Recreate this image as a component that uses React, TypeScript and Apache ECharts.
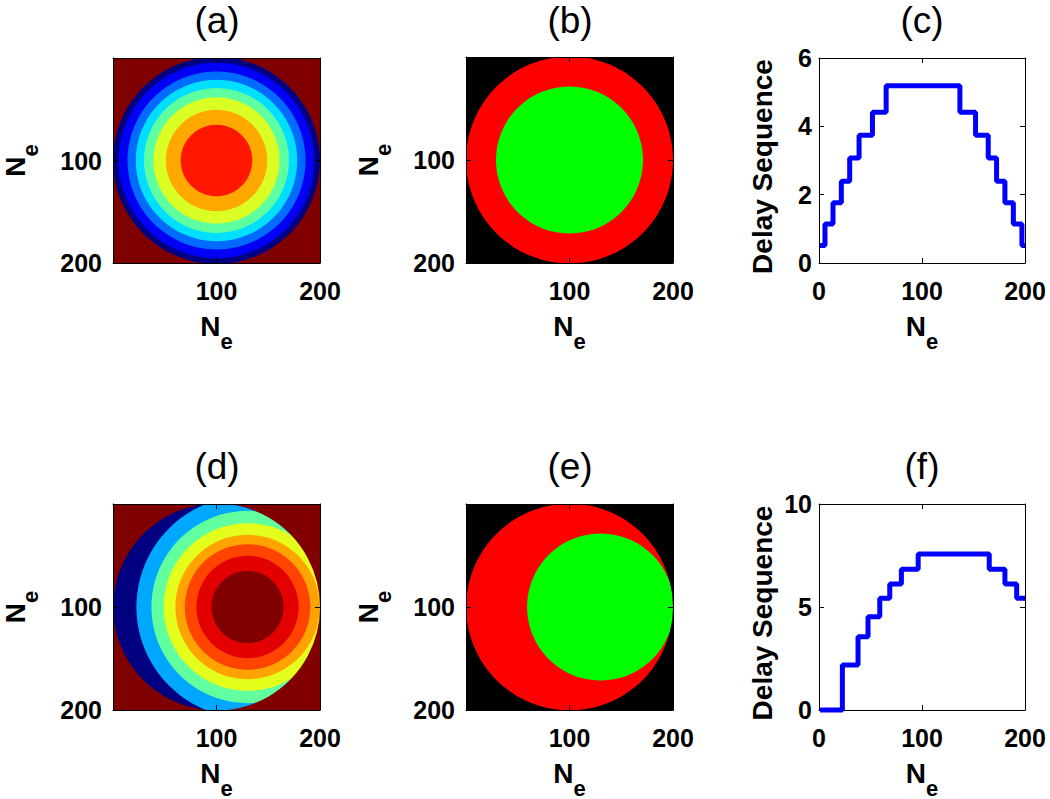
import React, { useEffect, useRef } from "react";
import * as echarts from "echarts";

// ---------------- data ----------------
const panelTitles = ["(a)", "(b)", "(c)", "(d)", "(e)", "(f)"];

// aperture (all image panels)
const apertureCenter = [100, 100];
const apertureRadius = 100;

// (a) delay rings around the unsteered focus (aperture centre)
const ringsA_radius = [100, 94.5, 86, 78, 70, 61, 49, 34.6];
const ringsA_delay = [0.51, 1.14, 1.76, 2.39, 3.07, 3.74, 4.41, 5.19];
const climA = [0.5, 6];

// (d) delay rings around the steered focus
const focusD = [130, 100];
const outsideDelayD = 0;
const ringsD_radius = [107.4, 92.9, 81, 69.7, 60.7, 49.4, 34.9];
const ringsD_delay = [2.18, 3.56, 4.53, 5.42, 6.12, 6.83, 7.57];
const climD = [0, 7.57];

// (b), (e) active sub-aperture
const activeRadius = 71;
const activeCenterB = [100, 100];
const activeCenterE = [130, 100];

// (c) delay sequence (step line): x where each level starts, level
const seqC_x = [1, 5.8, 13.6, 21.7, 29.8, 38.9, 51.9, 65.2, 136.8, 152, 164.3, 172.4, 180.5, 188.7, 197, 200];
const seqC_y = [0.51, 1.14, 1.76, 2.39, 3.07, 3.74, 4.41, 5.19, 4.41, 3.74, 3.07, 2.39, 1.76, 1.14, 0.51, 0.51];

// (f) delay sequence
const seqF_x = [1, 22.7, 37.9, 47.6, 59, 68.7, 80, 96.3, 165.3, 180.5, 191.9, 200];
const seqF_y = [0, 2.18, 3.56, 4.53, 5.42, 6.12, 6.83, 7.57, 6.83, 6.12, 5.42, 5.42];

// axis ticks
const imgAxisMax = 200;
const imgTickStep = 100;
const cAxisYMax = 6;
const cAxisYStep = 2;
const fAxisYMax = 10;
const fAxisYStep = 5;
const seqAxisXMax = 200;
const seqAxisXStep = 100;

// ---------------- styling ----------------
const FONT = "'Liberation Sans', Arial, sans-serif";
const JET = ["#000080", "#0000ff", "#0080ff", "#00ffff", "#80ff80", "#ffff00", "#ff8000", "#ff0000", "#800000"];
const MASK_WIDTH = 70; // data units, thickness of the outside-aperture mask ring

const GRIDS = [
  { left: 113, top: 58, width: 207, height: 205 },
  { left: 466, top: 57, width: 207, height: 206 },
  { left: 819, top: 58, width: 206, height: 205 },
  { left: 113, top: 504, width: 207, height: 206 },
  { left: 466, top: 504, width: 207, height: 206 },
  { left: 819, top: 504, width: 206, height: 206 },
];

const neRich = {
  n: { fontFamily: FONT, fontSize: 28, fontWeight: "bold", color: "#000", lineHeight: 28, verticalAlign: "top" },
  s: { fontFamily: FONT, fontSize: 22, fontWeight: "bold", color: "#000", lineHeight: 40, verticalAlign: "bottom" },
};
const NE = "{n|N}{s|e}";

function renderDisk(params: any, api: any) {
  const cx = api.value(0);
  const cy = api.value(1);
  const r = api.value(2);
  const kind = api.value(4);
  const color = api.visual("color");
  if (kind === 2) {
    const a = api.coord([cx - r, cy - r]);
    const b = api.coord([cx + r, cy + r]);
    return {
      type: "rect",
      shape: { x: Math.min(a[0], b[0]), y: Math.min(a[1], b[1]), width: Math.abs(b[0] - a[0]), height: Math.abs(b[1] - a[1]) },
      style: { fill: color },
    };
  }
  const c = api.coord([cx, cy]);
  const pr = api.size([r, r])[0];
  if (kind === 1) {
    const w = api.size([MASK_WIDTH, MASK_WIDTH])[0];
    return {
      type: "circle",
      shape: { cx: c[0], cy: c[1], r: pr + w / 2 },
      style: { fill: "none", stroke: color, lineWidth: w },
    };
  }
  return { type: "circle", shape: { cx: c[0], cy: c[1], r: pr }, style: { fill: color } };
}

const tickStyle = { show: true, inside: true, length: 5, lineStyle: { color: "#000", width: 1 } };
const axisLineStyle = { show: true, onZero: false, lineStyle: { color: "#000", width: 1 } };
const labelStyle = (margin: number, extra: any = {}) => ({
  fontFamily: FONT,
  fontSize: 25,
  fontWeight: "bold",
  color: "#000",
  margin,
  ...extra,
});

function xAxes(g: number, isImg: boolean, max: number, step: number) {
  const base = {
    type: "value",
    gridIndex: g,
    min: 0,
    max,
    interval: step,
    splitLine: { show: false },
    axisLine: axisLineStyle,
    axisTick: tickStyle,
    z: isImg ? 10 : 0,
  };
  return [
    {
      ...base,
      position: "bottom",
      axisLabel: labelStyle(15, { showMinLabel: !isImg }),
      name: NE,
      nameLocation: "middle",
      nameGap: 49,
      nameTextStyle: { rich: neRich },
    },
    { ...base, position: "top", axisLabel: { show: false } },
  ];
}

function yAxes(g: number, isImg: boolean, max: number, step: number, margin: number, name: string, nameGap: number, nameTextStyle: any) {
  const base = {
    type: "value",
    gridIndex: g,
    min: 0,
    max,
    interval: step,
    inverse: isImg,
    splitLine: { show: false },
    axisLine: axisLineStyle,
    axisTick: tickStyle,
    z: isImg ? 10 : 0,
  };
  return [
    {
      ...base,
      position: "left",
      axisLabel: labelStyle(margin, { showMinLabel: !isImg }),
      name,
      nameLocation: "middle",
      nameRotate: 90,
      nameGap,
      nameTextStyle,
    },
    { ...base, position: "right", axisLabel: { show: false } },
  ];
}

function item(c: number[], r: number, v: number, kind: number, color?: string) {
  const it: any = { value: [c[0], c[1], r, v, kind] };
  if (color) it.itemStyle = { color };
  return it;
}

export default function App() {
  const ref = useRef<HTMLDivElement>(null);
  useEffect(() => {
    if (!ref.current) return;
    const chart = echarts.init(ref.current, undefined, { renderer: "svg" });

    const dataA = [
      item(apertureCenter, apertureRadius, climA[1], 2),
      ...ringsA_radius.map((r, i) => item(apertureCenter, r, ringsA_delay[i], 0)),
    ];
    const dataD = [
      item(apertureCenter, apertureRadius, climD[1], 2),
      item(apertureCenter, apertureRadius, outsideDelayD, 0),
      ...ringsD_radius.map((r, i) => item(focusD, r, ringsD_delay[i], 0)),
      item(apertureCenter, apertureRadius, climD[1], 1),
    ];
    const dataB = [
      item(apertureCenter, apertureRadius, 0, 2, "#000000"),
      item(apertureCenter, apertureRadius, 0, 0, "#ff0000"),
      item(activeCenterB, activeRadius, 0, 0, "#00ff00"),
    ];
    const dataE = [
      item(apertureCenter, apertureRadius, 0, 2, "#000000"),
      item(apertureCenter, apertureRadius, 0, 0, "#ff0000"),
      item(activeCenterE, activeRadius, 0, 0, "#00ff00"),
      item(apertureCenter, apertureRadius, 0, 1, "#000000"),
    ];

    const imgSeries = (idx: number, data: any[]) => ({
      type: "custom",
      xAxisIndex: idx * 2,
      yAxisIndex: idx * 2,
      renderItem: renderDisk,
      clip: true,
      silent: true,
      encode: { x: 0, y: 1 },
      data,
    });
    const lineSeries = (idx: number, xs: number[], ys: number[]) => ({
      type: "line",
      xAxisIndex: idx * 2,
      yAxisIndex: idx * 2,
      step: "end",
      symbol: "none",
      clip: false,
      lineStyle: { color: "#0000ff", width: 5 },
      data: xs.map((x, i) => [x, ys[i]]),
    });

    const delayName = {
      fontFamily: FONT,
      fontSize: 28,
      fontWeight: "bold",
      color: "#000",
      padding: [0, 12, 0, 0],
    };

    const titlePos = [
      [217, 20],
      [570, 20],
      [922, 20],
      [217, 466],
      [570, 466],
      [922, 466],
    ];

    chart.setOption({
      animation: false,
      backgroundColor: "#ffffff",
      grid: GRIDS.map((g) => ({ ...g, containLabel: false, outerBoundsMode: "none" })),
      xAxis: [
        ...xAxes(0, true, imgAxisMax, imgTickStep),
        ...xAxes(1, true, imgAxisMax, imgTickStep),
        ...xAxes(2, false, seqAxisXMax, seqAxisXStep),
        ...xAxes(3, true, imgAxisMax, imgTickStep),
        ...xAxes(4, true, imgAxisMax, imgTickStep),
        ...xAxes(5, false, seqAxisXMax, seqAxisXStep),
      ],
      yAxis: [
        ...yAxes(0, true, imgAxisMax, imgTickStep, 11, NE, 72, { rich: neRich }),
        ...yAxes(1, true, imgAxisMax, imgTickStep, 11, NE, 72, { rich: neRich }),
        ...yAxes(2, false, cAxisYMax, cAxisYStep, 7, "Delay Sequence", 43, delayName),
        ...yAxes(3, true, imgAxisMax, imgTickStep, 11, NE, 72, { rich: neRich }),
        ...yAxes(4, true, imgAxisMax, imgTickStep, 11, NE, 72, { rich: neRich }),
        ...yAxes(5, false, fAxisYMax, fAxisYStep, 7, "Delay Sequence", 43, delayName),
      ],
      visualMap: [
        { type: "continuous", show: false, seriesIndex: 0, dimension: 3, min: climA[0], max: climA[1], inRange: { color: JET } },
        { type: "continuous", show: false, seriesIndex: 3, dimension: 3, min: climD[0], max: climD[1], inRange: { color: JET } },
      ],
      series: [
        imgSeries(0, dataA),
        imgSeries(1, dataB),
        lineSeries(2, seqC_x, seqC_y),
        imgSeries(3, dataD),
        imgSeries(4, dataE),
        lineSeries(5, seqF_x, seqF_y),
      ],
      graphic: panelTitles.map((t, i) => ({
        type: "text",
        x: titlePos[i][0],
        y: titlePos[i][1],
        style: {
          text: t,
          align: "center",
          verticalAlign: "middle",
          fontFamily: FONT,
          fontSize: 37,
          fontWeight: "normal",
          fill: "#000",
        },
      })),
    });

    return () => chart.dispose();
  }, []);

  return (
    <div
      ref={ref}
      style={{ position: "absolute", left: 0, top: 0, width: 1050, height: 799, background: "#fff" }}
    />
  );
}
